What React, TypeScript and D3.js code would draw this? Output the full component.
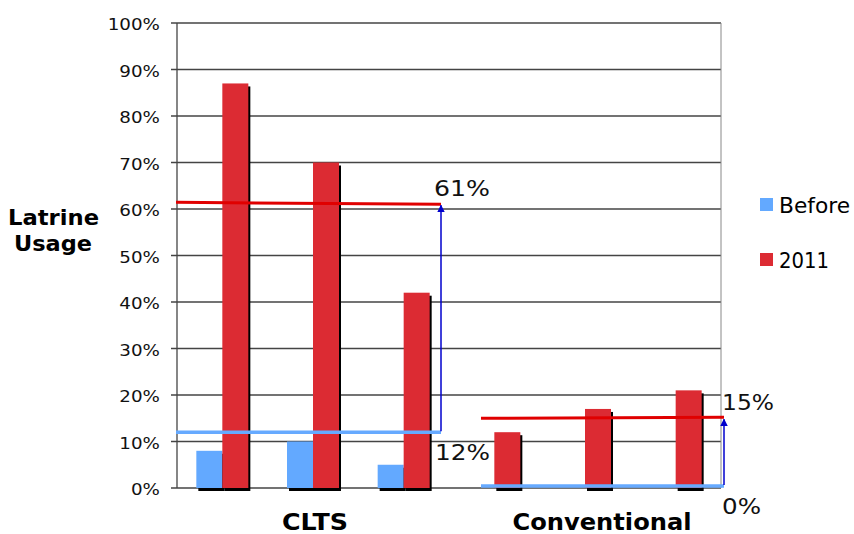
import React from "react";
import * as d3 from "d3";

const categories = ["C1", "C2", "C3", "V1", "V2", "V3"];
const beforeValues = [8, 10, 5, 0, 0, 0];
const values2011 = [87, 70, 42, 12, 17, 21];
const yTicks = [0, 10, 20, 30, 40, 50, 60, 70, 80, 90, 100];
const groups = ["CLTS", "Conventional"];
const seriesNames = ["Before", "2011"];
const averagesBefore = [12, 0];
const averagesAfter = [61, 15];

const W = 854, H = 534;
const left = 177, right = 721, top = 23, bottom = 488;
const BLUE = "#63a9ff";
const RED = "#dc2b33";
const LINE_RED = "#e00000";
const LINE_BLUE = "#66aaff";
const ARROW = "#0000cc";
const FONT = "DejaVu Sans, Verdana, sans-serif";

export default function App() {
  const x = d3.scaleBand<string>().domain(categories).range([left, right]).padding(0);
  const y = d3.scaleLinear().domain([0, 100]).range([bottom, top]);
  const bw = 26;
  const pct = (v: number) => `${v}%`;

  const spans = [
    { x0: left - 1, x1: (x("C3") as number) + x.bandwidth() - 8 },
    { x0: (x("V1") as number) + 32, x1: right + 3 },
  ];
  const groupLabelLen = [66, 179];
  const legendLen = [71, 50];

  return (
    <svg width={W} height={H} style={{ position: "absolute", left: 0, top: 0, background: "#fff" }}>
      <defs>
        <marker id="arr" viewBox="0 0 10 10" refX="9" refY="5" markerWidth="5" markerHeight="6" orient="auto">
          <path d="M0,0 L10,5 L0,10 z" fill={ARROW} />
        </marker>
      </defs>
      {/* grid */}
      {yTicks.map((t) => (
        <g key={t}>
          <line x1={left - 6} x2={right} y1={y(t)} y2={y(t)} stroke="#444" strokeWidth={1.3} />
          <g transform={`translate(160, ${y(t) + 7}) scale(1.22, 1)`}>
            <text x={0} y={0} textAnchor="end" fontFamily={FONT} fontSize={15} fill="#111">
              {pct(t)}
            </text>
          </g>
        </g>
      ))}
      <line x1={left} x2={left} y1={top} y2={bottom} stroke="#444" strokeWidth={1.3} />
      <line x1={right} x2={right} y1={top} y2={bottom} stroke="#888" strokeWidth={1} />

      {/* shadows */}
      {categories.map((c, i) => {
        const cx = (x(c) as number) + x.bandwidth() / 2;
        return (
          <g key={"s" + c}>
            {beforeValues[i] > 0 && (
              <rect x={cx - bw + 2} y={y(beforeValues[i]) + 3} width={bw} height={bottom - y(beforeValues[i])} fill="#000" />
            )}
            <rect x={cx + 2} y={y(values2011[i]) + 3} width={bw} height={bottom - y(values2011[i])} fill="#000" />
          </g>
        );
      })}
      {/* bars */}
      {categories.map((c, i) => {
        const cx = (x(c) as number) + x.bandwidth() / 2;
        return (
          <g key={"b" + c}>
            {beforeValues[i] > 0 && (
              <rect x={cx - bw} y={y(beforeValues[i])} width={bw} height={bottom - y(beforeValues[i])} fill={BLUE} />
            )}
            <rect x={cx} y={y(values2011[i])} width={bw} height={bottom - y(values2011[i])} fill={RED} />
          </g>
        );
      })}

      {/* annotations */}
      {spans.map((s, g) => {
        const yb = y(averagesBefore[g]) + (g === 1 ? -2 : 0);
        const ya = y(averagesAfter[g]);
        return (
          <g key={"a" + g}>
            <line x1={s.x0} x2={s.x1} y1={yb} y2={yb} stroke={LINE_BLUE} strokeWidth={3.5} />
            <line x1={s.x0} x2={s.x1} y1={ya - (g === 0 ? 2 : 0)} y2={ya - (g === 1 ? 1 : 0)} stroke={LINE_RED} strokeWidth={3} />
            <line x1={s.x1} x2={s.x1} y1={yb - 1} y2={ya + 1} stroke={ARROW} strokeWidth={1.5} markerEnd="url(#arr)" />
            <text x={s.x1 - 7 + g * 5} y={ya - 8 + (g === 1 ? -0 : 0)} fontFamily={FONT} fontSize={22} fill="#111"
              textLength={g === 0 ? 56 : 52} lengthAdjust="spacingAndGlyphs">{pct(averagesAfter[g])}</text>
            <text x={s.x1 - 6 + g * 4} y={yb + (g === 0 ? 28 : 28)} fontFamily={FONT} fontSize={22} fill="#111"
              textLength={g === 0 ? 55 : 39} lengthAdjust="spacingAndGlyphs">{pct(averagesBefore[g])}</text>
          </g>
        );
      })}

      {/* group labels */}
      {groups.map((gname, g) => {
        const c0 = x(categories[g * 3]) as number;
        const c1 = (x(categories[g * 3 + 2]) as number) + x.bandwidth();
        const cx = (c0 + c1) / 2 + (g === 1 ? 17 : 2);
        return (
          <text key={gname} x={cx} y={530} textAnchor="middle" fontFamily={FONT} fontWeight="bold" fontSize={23} fill="#000"
            textLength={groupLabelLen[g]} lengthAdjust="spacingAndGlyphs">
            {gname}
          </text>
        );
      })}

      {/* y title */}
      <text x={53.5} y={225} textAnchor="middle" fontFamily={FONT} fontWeight="bold" fontSize={22} fill="#000"
        textLength={91} lengthAdjust="spacingAndGlyphs">Latrine</text>
      <text x={53} y={251} textAnchor="middle" fontFamily={FONT} fontWeight="bold" fontSize={22} fill="#000"
        textLength={78} lengthAdjust="spacingAndGlyphs">Usage</text>

      {/* legend */}
      {seriesNames.map((n, i) => (
        <g key={n} transform={`translate(760, ${198 + i * 55})`}>
          <rect x={0} y={0} width={13} height={13} fill={i === 0 ? BLUE : RED} />
          <text x={19} y={15 + i * 0} fontFamily={FONT} fontSize={21.5} fill="#000"
            textLength={legendLen[i]} lengthAdjust="spacingAndGlyphs">{n}</text>
        </g>
      ))}
    </svg>
  );
}
